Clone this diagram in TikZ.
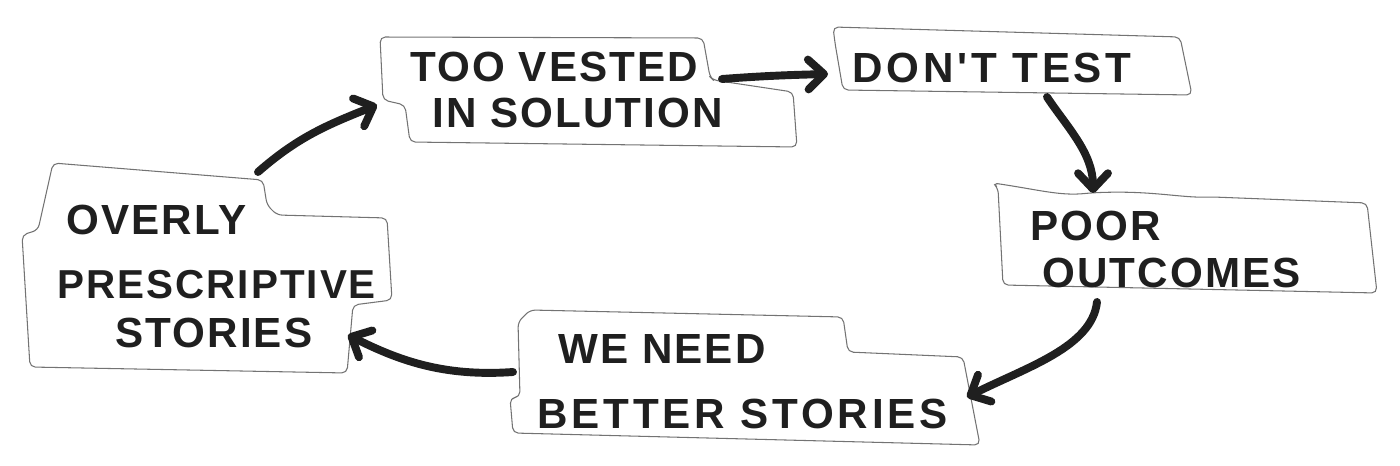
\documentclass[tikz,border=0pt]{standalone}
\usepackage{fontspec}
\setmainfont{Liberation Sans}
\newfontfamily\handfont[LetterSpace=5]{Liberation Sans}
\newfontfamily\widefont[LetterSpace=9]{Liberation Sans}
\usepackage{tikz}
\usetikzlibrary{arrows.meta}

\begin{document}
\begin{tikzpicture}[x=0.02cm,y=-0.02cm,
    note/.style={draw=black!55,line width=0.6pt,rounded corners=3pt},
    word/.style={anchor=base west,inner sep=0pt,text=black!88,
      font=\handfont\bfseries\fontsize{24}{28}\selectfont},
    push/.style={draw=black!88,line width=4.5pt,line cap=round,
      -{Straight Barb[length=9pt,width=17pt,round]}}]
            \useasboundingbox (0,0) rectangle (1400,466);
            % Draw the box of overly prescriptive stories
            \draw[note] (53,163) -- (263,180) -- (267,205) -- (277,215) -- (387,218) -- (392,300)
              -- (353,305) -- (347,373) -- (30,367) -- (22,235) -- (38,230) -- cycle;
            \node[word] (overly1) at (66,235) {OVERLY};
            \node[word,font=\handfont\bfseries\fontsize{23}{28}\selectfont] (overly2) at (57,298) {PRESCRIPTIVE};
            \node[word] (overly3) at (115,347) {STORIES};
            \coordinate (overly-out) at (258,172);
            \coordinate (overly-in) at (348,335);
            % Draw the box of too vested in solution
            \draw[note] (380,37) -- (703,38) -- (710,77) -- (713,80) -- (793,92) -- (797,147)
              -- (410,142) -- (405,105) -- (383,100) -- cycle;
            \node[word] (vested1) at (410,82) {TOO VESTED};
            \node[word] (vested2) at (432,128) {IN SOLUTION};
            \coordinate (vested-in) at (377,105);
            \coordinate (vested-out) at (722,79);
            % Draw the box of don't test
            \draw[note] (833,27) -- (1180,37) -- (1192,95) -- (843,90) -- (835,43) -- cycle;
            \node[word,font=\widefont\bfseries\fontsize{24}{28}\selectfont] (donttest) at (852,83) {DON'T TEST};
            \coordinate (donttest-in) at (828,74);
            \coordinate (donttest-out) at (1047,97);
            % Draw the box of poor outcomes
            \draw[note] (993,183) .. controls (1040,190) and (1060,196) .. (1090,193)
              .. controls (1150,190) and (1180,198) .. (1213,197) -- (1367,203) -- (1377,293)
              -- (1003,285) -- (998,188) -- cycle;
            \node[word] (poor1) at (1030,240) {POOR};
            \node[word] (poor2) at (1042,287) {OUTCOMES};
            \coordinate (poor-in) at (1093,193);
            \coordinate (poor-out) at (1097,302);
            % Draw the box of we need better stories
            \draw[note] (530,310) -- (843,317) -- (848,352) -- (963,357) -- (980,445) -- (513,433)
              -- (510,398) -- (520,397) -- (518,322) -- cycle;
            \node[word] (better1) at (558,363) {WE NEED};
            \node[word,font=\widefont\bfseries\fontsize{24}{28}\selectfont] (better2) at (537,428) {BETTER STORIES};
            \coordinate (better-in) at (967,397);
            \coordinate (better-out) at (513,372);
            % Draw the arrows of the loop
            \draw[push] (overly-out) .. controls +(40,-35) and +(-50,20) .. (vested-in);
            \draw[push] (vested-out) .. controls +(40,-3) and +(-40,1) .. (donttest-in);
            \draw[push] (donttest-out) .. controls +(20,30) and +(0,-40) .. (poor-in);
            \draw[push] (poor-out) .. controls +(-5,45) and +(60,-30) .. (better-in);
            \draw[push] (better-out) .. controls +(-70,5) and +(50,25) .. (overly-in);
          \end{tikzpicture}
\end{document}
